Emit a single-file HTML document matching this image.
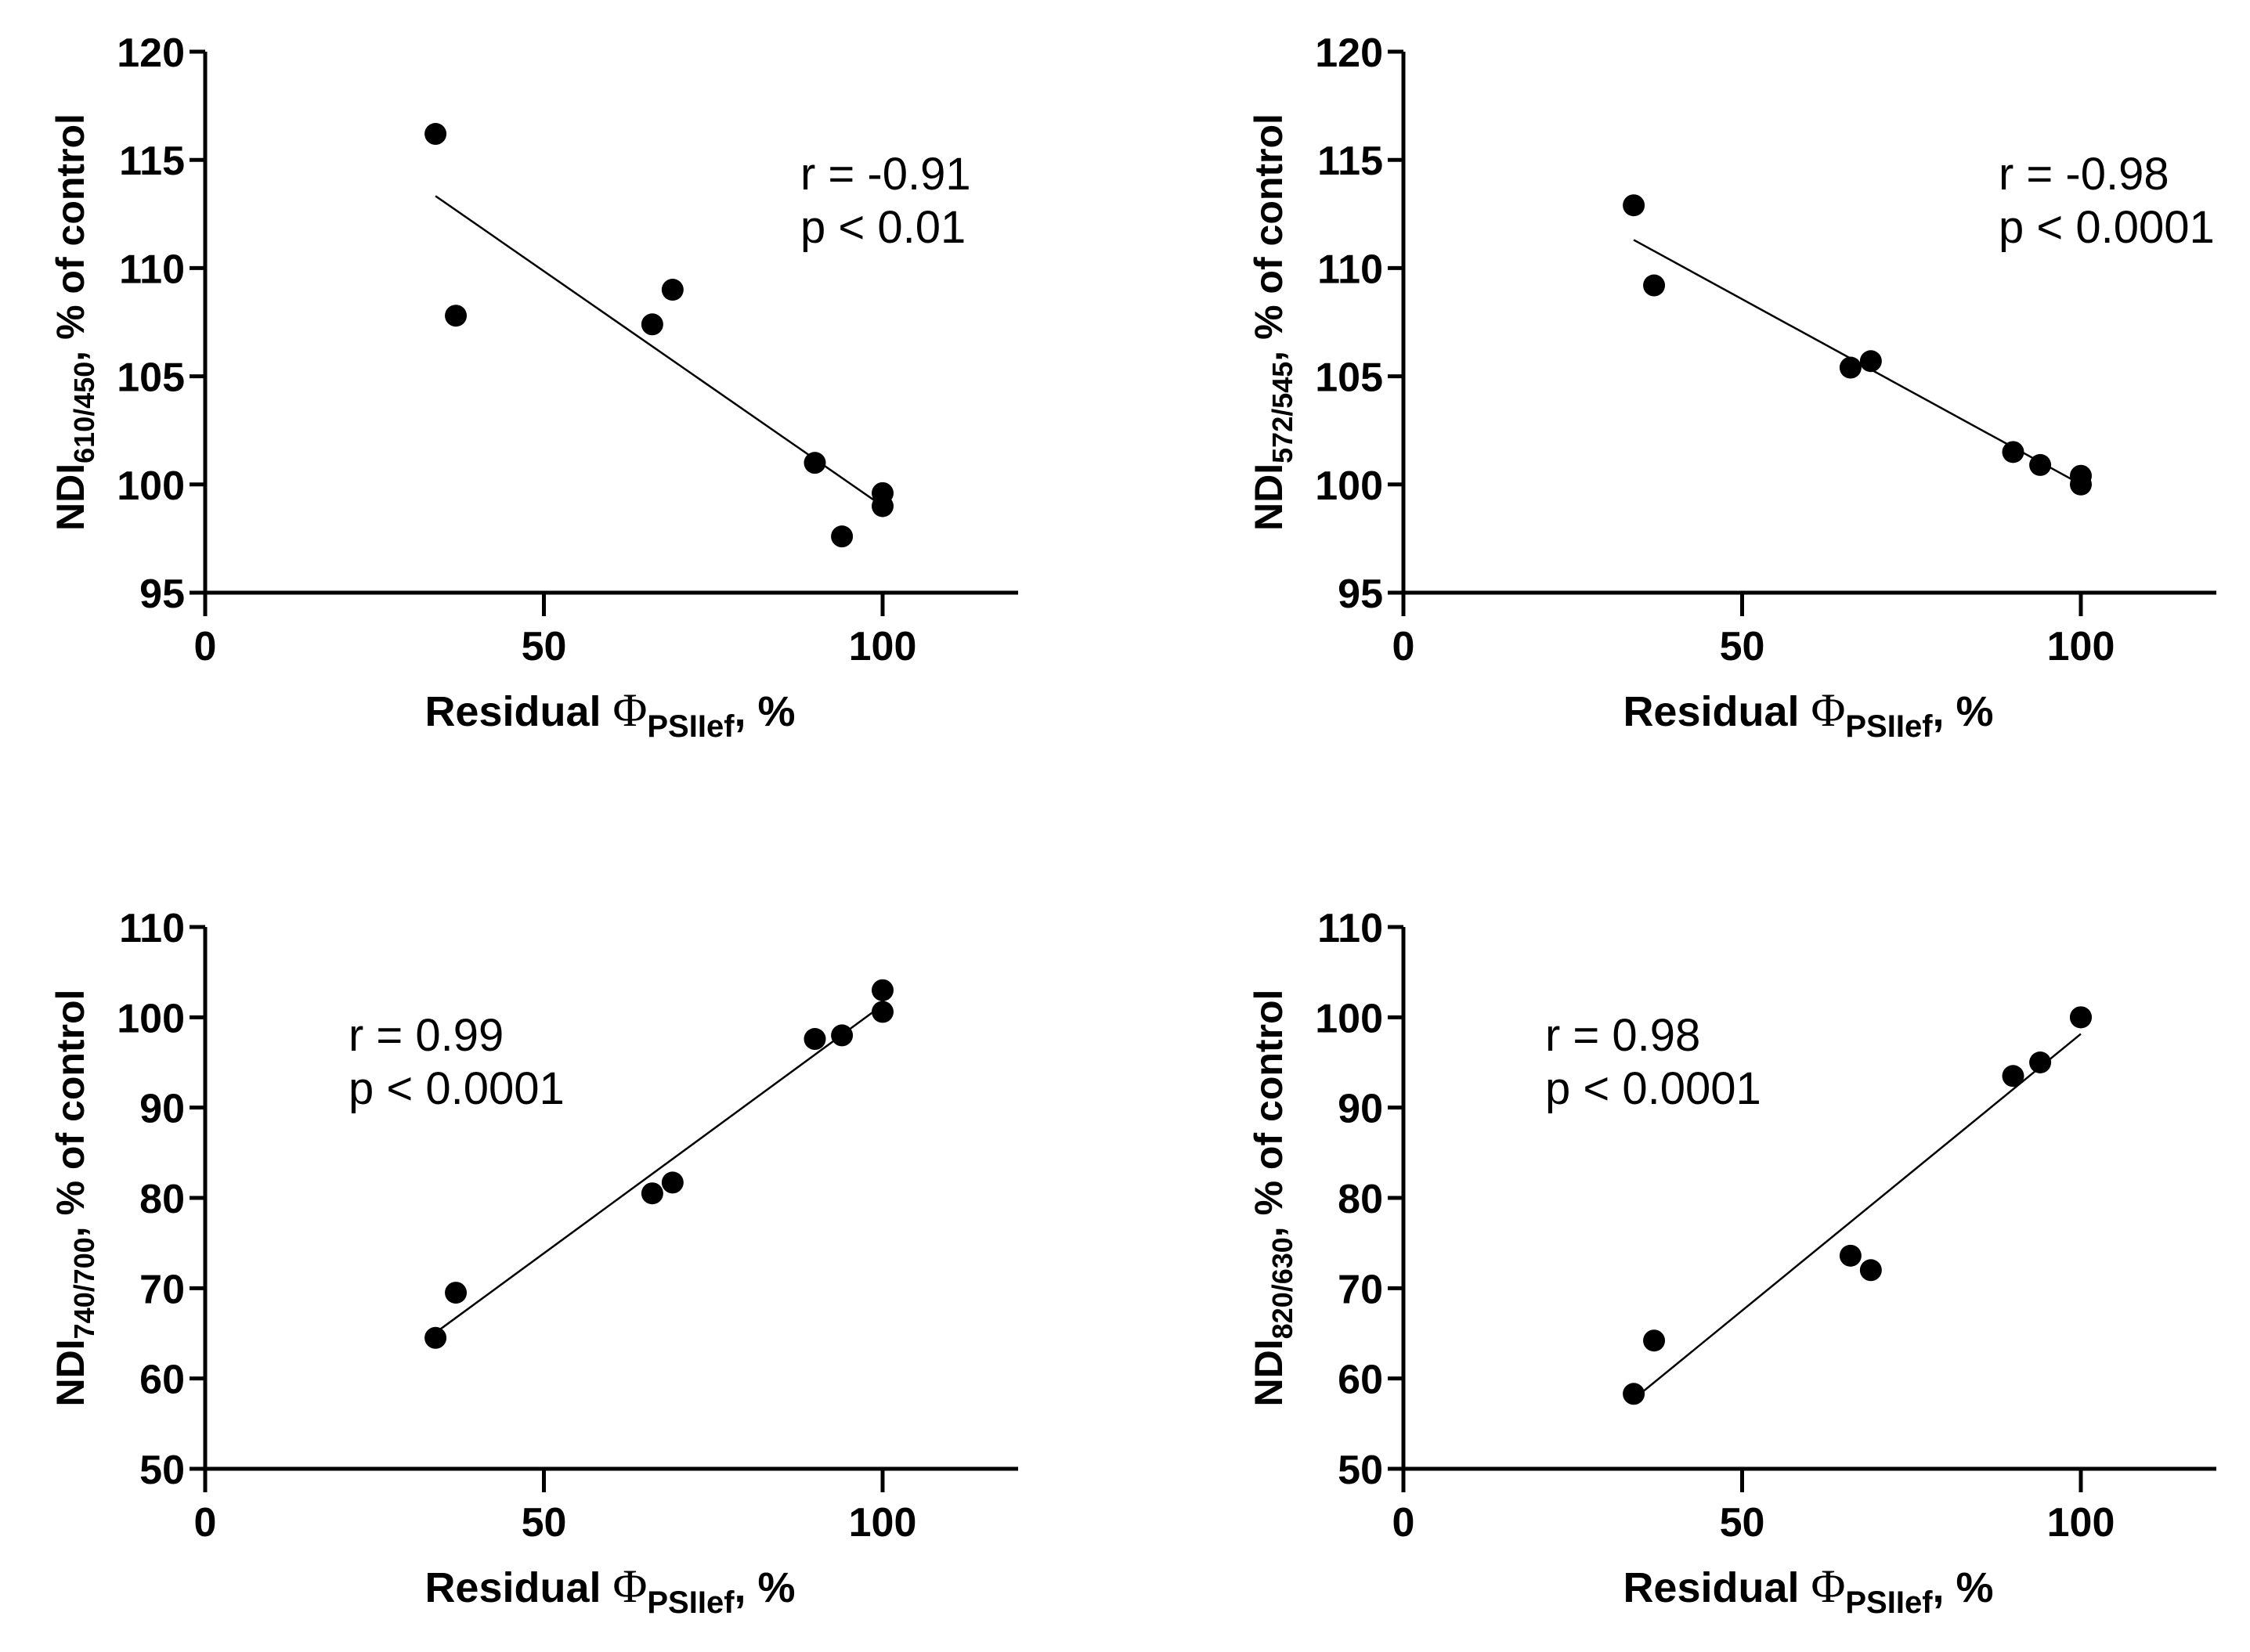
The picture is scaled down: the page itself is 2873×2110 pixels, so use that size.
<!DOCTYPE html>
<html><head><meta charset="utf-8">
<style>
html,body{margin:0;padding:0;background:#fff;}
svg{display:block;font-family:"Liberation Sans Narrow","Liberation Sans",sans-serif;}
</style></head>
<body>
<svg id="fig" width="2873" height="2110" viewBox="0 0 2873 2110" xmlns="http://www.w3.org/2000/svg"></svg>
<script>
const xVals = [34, 37, 66, 69, 90, 94, 100, 100];
const yNdi610 = [116.2, 107.8, 107.4, 109.0, 101.0, 97.6, 99.6, 99.0];
const yNdi572 = [112.9, 109.2, 105.4, 105.7, 101.5, 100.9, 100.4, 100.0];
const yNdi740 = [64.5, 69.5, 80.5, 81.7, 97.6, 98.0, 103.0, 100.6];
const yNdi820 = [58.3, 64.2, 73.6, 72.0, 93.5, 95.0, 100.0, 100.0];
const xTicks = [0, 50, 100];
const yTicksTop = [95, 100, 105, 110, 115, 120];
const yTicksBottom = [50, 60, 70, 80, 90, 100, 110];

const NS = "http://www.w3.org/2000/svg";
const svg = document.getElementById("fig");
function mk(tag, attrs, parent) {
  const e = document.createElementNS(NS, tag);
  for (const k in attrs) e.setAttribute(k, attrs[k]);
  (parent || svg).appendChild(e);
  return e;
}
function fit(xs, ys) {
  const n = xs.length;
  const mx = xs.reduce((a, b) => a + b) / n, my = ys.reduce((a, b) => a + b) / n;
  let sxy = 0, sxx = 0;
  for (let i = 0; i < n; i++) { sxy += (xs[i] - mx) * (ys[i] - my); sxx += (xs[i] - mx) ** 2; }
  const b = sxy / sxx; return [my - b * mx, b];
}
function panel(name, ox, y0, yTop, yTicks, ys, sub, rText, pText, annX, annY) {
  const g = mk("g", {});
  
  
  const x0px = ox, x100px = ox + 865, xEnd = ox + 1038;
  const yMin = yTicks[0], yMax = yTicks[yTicks.length - 1];
  const sx = v => x0px + (v / 100) * (x100px - x0px);
  const sy = v => y0 + (v - yMin) / (yMax - yMin) * (yTop - y0);
  const ya = mk("line", {x1: ox, y1: yTop, x2: ox, y2: y0 + 30, stroke: "#000", "stroke-width": 5}, g);
  
  
  const xa = mk("line", {x1: ox - 20, y1: y0, x2: xEnd, y2: y0, stroke: "#000", "stroke-width": 5}, g);
  
  
  yTicks.forEach(t => {
    const y = sy(t);
    mk("line", {x1: ox - 20, y1: y, x2: ox, y2: y, stroke: "#000", "stroke-width": 5}, g);
    const tx = mk("text", {x: ox - 26, y: y + 19, "text-anchor": "end", "font-size": 52, "font-weight": "bold"}, g);
    tx.textContent = t;
    
    
  });
  xTicks.forEach(t => {
    const x = sx(t);
    mk("line", {x1: x, y1: y0, x2: x, y2: y0 + 30, stroke: "#000", "stroke-width": 5}, g);
    const tx = mk("text", {x: x, y: y0 + 86, "text-anchor": "middle", "font-size": 52, "font-weight": "bold"}, g);
    tx.textContent = t;
    
    
  });
  const xt = mk("text", {x: ox + 517, y: y0 + 170, "text-anchor": "middle", "font-size": 54, "font-weight": "bold"}, g);
  
  
  xt.innerHTML = 'Residual <tspan font-weight="normal" font-family="Liberation Serif, serif" font-size="60">Φ</tspan><tspan font-size="40" dy="14">PSIIef</tspan><tspan dy="-14">, %</tspan>';
  const ymid = (y0 + yTop) / 2;
  const yt = mk("text", {x: 0, y: 0, "text-anchor": "middle", "font-size": 50, "font-weight": "bold",
    transform: `translate(${ox - 155},${ymid}) rotate(-90)`}, g);
  
  
  yt.innerHTML = `NDI<tspan font-size="36" dy="13">${sub}</tspan><tspan dy="-13">, % of control</tspan>`;
  const [a, b] = fit(xVals, ys);
  const xmn = Math.min(...xVals), xmx = Math.max(...xVals);
  const rl = mk("line", {x1: sx(xmn), y1: sy(a + b * xmn), x2: sx(xmx), y2: sy(a + b * xmx), stroke: "#000", "stroke-width": 2.5}, g);
  
  
  xVals.forEach((xv, i) => {
    const c = mk("circle", {cx: sx(xv), cy: sy(ys[i]), r: 14, fill: "#000"}, g);
    
    
  });
  const t1 = mk("text", {x: annX, y: annY, "font-size": 58}, g);
  t1.textContent = rText;
  
  
  const t2 = mk("text", {x: annX, y: annY + 68, "font-size": 58}, g);
  t2.textContent = pText;
  
  
}
panel("panel-ndi-610-450", 262, 757, 66, yTicksTop, yNdi610, "610/450", "r = -0.91", "p < 0.01", 1022, 242);
panel("panel-ndi-572-545", 1792, 757, 66, yTicksTop, yNdi572, "572/545", "r = -0.98", "p < 0.0001", 2552, 242);
panel("panel-ndi-740-700", 262, 1876, 1184, yTicksBottom, yNdi740, "740/700", "r = 0.99", "p < 0.0001", 445, 1342);
panel("panel-ndi-820-630", 1792, 1876, 1184, yTicksBottom, yNdi820, "820/630", "r = 0.98", "p < 0.0001", 1973, 1342);
</script>
</body></html>
